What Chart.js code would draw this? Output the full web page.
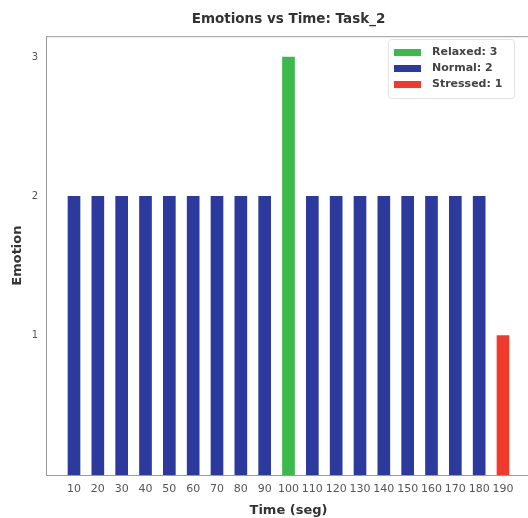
<!DOCTYPE html>
<html>
<head>
<meta charset="utf-8">
<script src="https://cdn.jsdelivr.net/npm/chart.js@4.4.1/dist/chart.umd.min.js"></script>
<style>
  html, body { margin: 0; background: #fff; overflow: hidden; }
</style>
</head>
<body>
<canvas id="emoChart" width="532" height="518"></canvas>
<script>
// Data
const times = [10, 20, 30, 40, 50, 60, 70, 80, 90, 100, 110, 120, 130, 140, 150, 160, 170, 180, 190];
const emotions = [2, 2, 2, 2, 2, 2, 2, 2, 2, 3, 2, 2, 2, 2, 2, 2, 2, 2, 1];
const levels = [3, 2, 1];
const levelNames = ["Relaxed", "Normal", "Stressed"];
const levelColors = ["#3cb94a", "#2b3a9c", "#f23a2c"];
const yTicks = [1, 2, 3];

const font = "'DejaVu Sans', sans-serif";

// one dataset per emotion level, bars stay on their own x value
const datasets = levels.map((lvl, k) => ({
    label: levelNames[k] + ": " + lvl,
    data: times
        .map((t, i) => ({ x: t, y: emotions[i] }))
        .filter(p => p.y === lvl),
    backgroundColor: levelColors[k],
    barThickness: 12,
    grouped: false,
}));

// legend box and top frame line, drawn inside the plot
const boxLegend = {
    id: "boxLegend",
    afterDraw(chart) {
        const c = chart.ctx;
        const a = chart.chartArea;
        c.save();
        c.strokeStyle = "#9a9a9a";
        c.lineWidth = 1;
        c.beginPath();
        c.moveTo(a.left, a.top + 0.5);
        c.lineTo(a.right, a.top + 0.5);
        c.stroke();

        const x0 = 388, y0 = 39, w = 126, h = 59;
        c.fillStyle = "rgba(255,255,255,0.85)";
        c.strokeStyle = "#e2e2e2";
        c.beginPath();
        c.roundRect(x0 + 0.5, y0 + 0.5, w, h, 3);
        c.fill();
        c.stroke();

        c.font = "bold 11px " + font;
        c.textBaseline = "middle";
        chart.data.datasets.forEach((ds, k) => {
            const yy = y0 + 13 + k * 16;
            c.fillStyle = ds.backgroundColor;
            c.fillRect(x0 + 6, yy - 3, 27, 7);
            c.fillStyle = "#444";
            c.fillText(ds.label, x0 + 44, yy);
        });
        c.restore();
    },
};

new Chart(document.getElementById("emoChart").getContext("2d"), {
    type: "bar",
    data: { datasets: datasets },
    options: {
        responsive: false,
        animation: false,
        devicePixelRatio: 1,
        layout: { padding: { left: 0, right: 1, top: 0, bottom: 0 } },
        plugins: {
            legend: { display: false },
            tooltip: { enabled: false },
            title: {
                display: true,
                fullSize: false,
                text: "Emotions vs Time: Task_2",
                color: "#333",
                font: { family: font, size: 13.5, weight: "bold" },
                padding: { top: 11, bottom: 9 },
            },
        },
        scales: {
            x: {
                type: "linear",
                offset: false,
                min: -1.75,
                max: 201.75,
                afterBuildTicks: s => { s.ticks = times.map(v => ({ value: v })); },
                afterFit: s => { s.height = 43; },
                grid: { display: false, drawTicks: true, tickLength: 4, tickColor: "#888" },
                border: { color: "#9a9a9a" },
                ticks: {
                    color: "#555",
                    autoSkip: false,
                    maxRotation: 0,
                    padding: 4,
                    font: { family: font, size: 11 },
                },
                title: {
                    display: true,
                    text: "Time (seg)",
                    color: "#333",
                    font: { family: font, size: 13, weight: "bold" },
                    padding: { top: 2, bottom: 0 },
                },
            },
            y: {
                min: 0,
                max: 3.15,
                afterBuildTicks: s => { s.ticks = yTicks.map(v => ({ value: v })); },
                afterFit: s => { s.width = 46; },
                grid: { display: false, drawTicks: true, tickLength: 4, tickColor: "#888" },
                border: { color: "#9a9a9a" },
                ticks: {
                    color: "#555",
                    padding: 4,
                    font: { family: font, size: 10 },
                },
                title: {
                    display: true,
                    text: "Emotion",
                    color: "#333",
                    font: { family: font, size: 13, weight: "bold" },
                    padding: { top: 10, bottom: 0 },
                },
            },
        },
    },
    plugins: [boxLegend],
});
</script>
</body>
</html>
